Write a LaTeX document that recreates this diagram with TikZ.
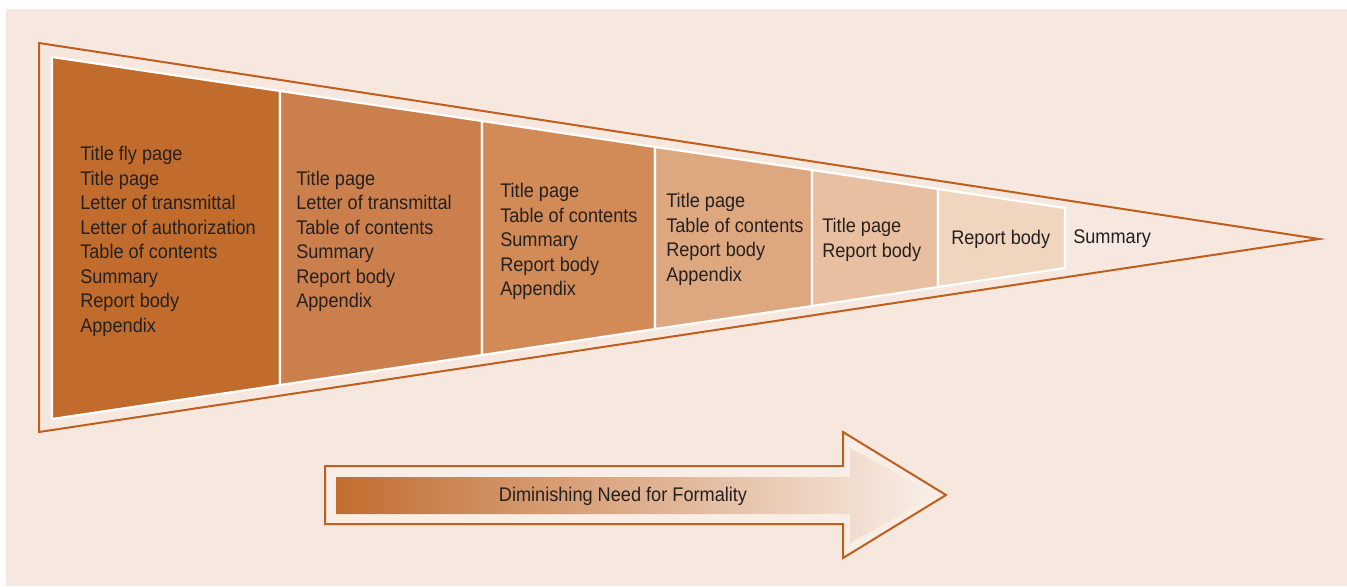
\documentclass[tikz,border=0pt]{standalone}
\usepackage{fontspec}
\setmainfont{Liberation Sans}[FakeStretch=0.92]
\usepackage{xcolor}
\usetikzlibrary{positioning}
\definecolor{bgpeach}{HTML}{F6E8DE}
\definecolor{lightpeach}{HTML}{F9EEE6}
\definecolor{rust}{HTML}{BF5E1E}
\definecolor{textgray}{HTML}{252120}
\definecolor{panelA}{HTML}{C16B2D}
\definecolor{panelB}{HTML}{CB7F4C}
\definecolor{panelC}{HTML}{D28A56}
\definecolor{panelD}{HTML}{DDA780}
\definecolor{panelE}{HTML}{E8C0A1}
\definecolor{panelF}{HTML}{F0D5BF}

\begin{document}
\begin{tikzpicture}[x=0.75pt, y=-0.75pt,
    panel/.style={draw=white, line width=1.6pt, line join=miter},
    item/.style={anchor=west, align=left, inner sep=0pt, text=textgray,
                 font=\fontsize{14.8}{18.4}\selectfont}]
        \useasboundingbox (0,0) rectangle (1347,586);
        % Background
        \fill[bgpeach] (6,9) rectangle (1347,586);

        % Outer pennant
        \draw[rust, line width=1.5pt, line join=miter] (39,43) -- (1319,239) -- (39,432) -- cycle;

        % Shaded panels
        \foreach \xa/\ta/\ba/\xb/\tb/\bb/\col in {
            52/57/419/280/91/385/panelA,
            280/91/385/482/121/355/panelB,
            482/121/355/655/147/329/panelC,
            655/147/329/812/170/306/panelD,
            812/170/306/938/189/287/panelE,
            938/189/287/1065/208/268/panelF}
            \filldraw[panel, fill=\col] (\xa,\ta) -- (\xb,\tb) -- (\xb,\bb) -- (\xa,\ba) -- cycle;

        % Panel contents
        \node[item] (fullset) at (80,241.5) {Title fly page\\Title page\\Letter of transmittal\\Letter of authorization\\Table of contents\\Summary\\Report body\\Appendix};
        \node[item] (sixparts) at (296,241.5) {Title page\\Letter of transmittal\\Table of contents\\Summary\\Report body\\Appendix};
        \node[item] (fiveparts) at (500,241.5) {Title page\\Table of contents\\Summary\\Report body\\Appendix};
        \node[item] (fourparts) at (666,239.5) {Title page\\Table of contents\\Report body\\Appendix};
        \node[item] (twoparts) at (822,240) {Title page\\Report body};
        \node[item] (onepart) at (951,239) {Report body};
        \node[item] (summary) at (1073,239) {Summary};

        % Formality arrow
        \filldraw[rust, fill=lightpeach, line width=1.5pt, line join=miter]
            (325,466) -- (843,466) -- (843,432) -- (946,495) -- (843,558) -- (843,524) -- (325,524) -- cycle;
        \shade[left color=panelA!92!panelB, right color=bgpeach!70!white]
            (336,477) -- (850,477) -- (850,448) -- (936,495) -- (850,543) -- (850,514) -- (336,514) -- cycle;
        \node[item, anchor=center] (formality) at (623,496) {Diminishing Need for Formality};
    \end{tikzpicture}
\end{document}
